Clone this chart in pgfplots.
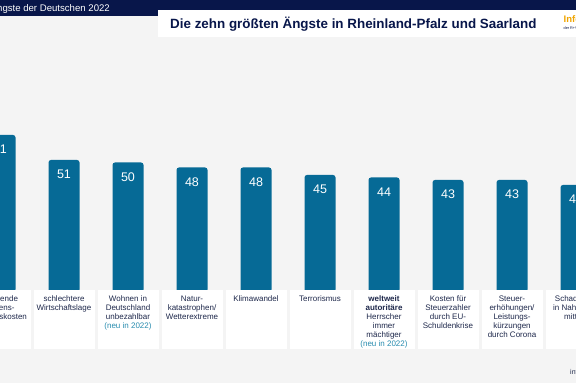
\documentclass[border=0pt]{standalone}
\usepackage{pgfplots}
\pgfplotsset{compat=1.18}
\usepackage{pgfplotstable}
\usepackage{fontspec}
\setmainfont{Liberation Sans}
\definecolor{bg}{RGB}{244,244,244}
\definecolor{navy}{RGB}{8,22,74}
\definecolor{barc}{RGB}{6,106,150}
\definecolor{txt}{RGB}{30,40,75}
\definecolor{neu}{RGB}{40,140,175}
\definecolor{orng}{RGB}{240,165,0}

\pgfplotstableread{
x v
0 61
1 51
2 50
3 48
4 48
5 45
6 44
7 43
8 43
9 41
}\data

\begin{document}
\begin{tikzpicture}[x=1pt,y=1pt]
\useasboundingbox (0,0) rectangle (576,383);
\clip (0,0) rectangle (576,383);
\fill[bg] (0,0) rectangle (576,383);
\fill[navy] (0,383) rectangle (576,373);
\fill[navy] (0,383) rectangle (158,367.3);
\fill[white] (158,373) rectangle (576,346.3);
\node[anchor=east, text=white, font=\fontsize{9.6}{11}\selectfont, inner sep=0pt] at (110,375) {Die Ängste der Deutschen 2022};
\node[anchor=base west, text=navy, font=\fontsize{13.4}{15}\selectfont\bfseries, inner sep=0pt] at (170,354.7) {Die zehn größten Ängste in Rheinland-Pfalz und Saarland};
\node[anchor=base west, text=orng, font=\fontsize{9.5}{11}\selectfont\bfseries, inner sep=0pt] at (563.5,360.7) {Infocenter};
\node[anchor=base west, text=navy, font=\fontsize{3.8}{4}\selectfont, inner sep=0pt] at (563.5,353.5) {der R+V Versicherung};

\begin{axis}[
  at={(0pt,91pt)}, anchor=south west,
  scale only axis, width=576pt, height=240pt,
  xmin=0, xmax=9, ymin=0, ymax=96,
  axis lines=none, ticks=none,
  ybar, bar width=31pt,
  point meta=explicit,
  /pgf/number format/assume math mode=true,
  nodes near coords,
  every node near coord/.append style={anchor=north, inner sep=0pt, yshift=-9.8pt,
     text=white, font=\fontsize{12.5}{14}\selectfont},
]
\addplot[fill=barc, draw=none, rounded corners=2.5pt]
  table[x=x, y expr=\thisrow{v}+1.8, meta=v] {\data};
\end{axis}

\foreach \i in {0,...,9} {
  \fill[white] ({64*\i-30.5},93) rectangle ({64*\i+30.5},33.7);
}
\tikzset{lab/.style={anchor=north, align=center, text=txt, inner sep=0pt,
  font=\fontsize{8}{9}\selectfont}}
\node[lab] at (0,87) {Steigende\\Lebens-\\haltungskosten};
\node[lab] at (64,87) {schlechtere\\Wirtschaftslage};
\node[lab] at (128,87) {Wohnen in\\Deutschland\\unbezahlbar\\\textcolor{neu}{(neu in 2022)}};
\node[lab] at (192,87) {Natur-\\katastrophen/\\Wetterextreme};
\node[lab] at (256,87) {Klimawandel};
\node[lab] at (320,87) {Terrorismus};
\node[lab] at (384,87) {\textbf{weltweit}\\\textbf{autoritäre}\\Herrscher\\immer\\mächtiger\\\textcolor{neu}{(neu in 2022)}};
\node[lab] at (448,87) {Kosten für\\Steuerzahler\\durch EU-\\Schuldenkrise};
\node[lab] at (512,87) {Steuer-\\erhöhungen/\\Leistungs-\\kürzungen\\durch Corona};
\node[lab] at (576,87) {Schadstoffe\\in Nahrungs-\\mitteln};
\node[anchor=west, text=txt, font=\fontsize{7}{8}\selectfont, inner sep=0pt] at (570,10) {infografik};
\end{tikzpicture}
\end{document}
